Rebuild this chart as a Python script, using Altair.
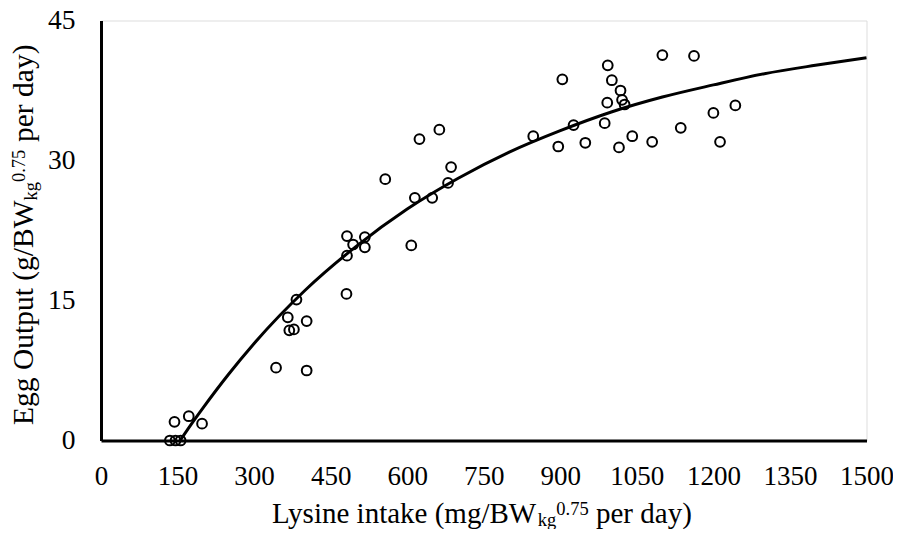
import altair as alt
import pandas as pd

lysine_x = [135, 146, 156, 144, 172, 198, 343, 403, 366, 369, 378, 403, 383,
            481, 482, 482, 494, 517, 517, 608, 557, 615, 649, 680, 686, 624,
            663, 847, 896, 904, 926, 949, 987, 992, 993, 1001, 1015, 1018,
            1021, 1026, 1041, 1080, 1100, 1136, 1162, 1200, 1213, 1243]
egg_y = [0, 0, 0, 2.0, 2.6, 1.8, 7.8, 7.5, 13.2, 11.8, 11.9, 12.8, 15.1,
         15.7, 19.8, 21.9, 21.0, 21.8, 20.7, 20.9, 28.0, 26.0, 26.0, 27.6, 29.3, 32.3,
         33.3, 32.6, 31.5, 38.7, 33.8, 31.9, 34.0, 36.2, 40.2, 38.6, 31.4, 37.5,
         36.5, 36.0, 32.6, 32.0, 41.3, 33.5, 41.2, 35.1, 32.0, 35.9]

# Fitted curve
curve_x = [155, 175, 200, 250, 300, 400, 500, 600, 700, 800, 900, 1000,
           1100, 1200, 1300, 1400, 1500]
curve_y = [0, 1.6, 3.5, 7.1, 10.4, 16.1, 20.8, 24.8, 28.1, 30.9, 33.2, 35.2,
           36.8, 38.1, 39.3, 40.2, 41.0]

x_ticks = [0, 150, 300, 450, 600, 750, 900, 1050, 1200, 1350, 1500]
y_ticks = [0, 15, 30, 45]

FONT = "Liberation Serif"
W, H = 765.5, 420

obs = pd.DataFrame({"x": lysine_x, "y": egg_y})
fit = pd.DataFrame({"x": curve_x, "y": curve_y})

xscale = alt.Scale(domain=[0, 1500], nice=False, zero=False)
yscale = alt.Scale(domain=[0, 45], nice=False, zero=False)

axis_common = dict(ticks=False, tickSize=0, grid=False, domainColor="black",
                   domainWidth=3, labelFont=FONT,
                   labelColor="black", title=None, labelOverlap=False, format="d")

xaxis = alt.Axis(values=x_ticks, labelPadding=23, labelFlush=False,
                 labelFontSize=27, **axis_common)
yaxis = alt.Axis(values=y_ticks, labelPadding=26, labelFontSize=27.5, **axis_common)

line = alt.Chart(fit).mark_line(color="black", strokeWidth=3, interpolate="monotone").encode(
    x=alt.X("x:Q", scale=xscale, axis=xaxis),
    y=alt.Y("y:Q", scale=yscale, axis=yaxis),
)

pts = alt.Chart(obs).mark_point(shape="circle", filled=False, color="black",
                                size=95, strokeWidth=2, opacity=1).encode(
    x=alt.X("x:Q", scale=xscale),
    y=alt.Y("y:Q", scale=yscale),
)


def txt(s, x, y, size, angle=0):
    return alt.Chart(pd.DataFrame({"t": [s]})).mark_text(
        font=FONT, fontSize=size, align="left", baseline="alphabetic",
        color="black", angle=angle,
    ).encode(text="t:N", x=alt.value(x), y=alt.value(y))


# x-axis title with subscript / superscript
xt = [
    txt("Lysine intake (mg/BW", 171, 502, 29),
    txt("kg", 436.8, 505, 18.5),
    txt("0.75", 455.3, 494, 18.5),
    txt("per day)", 495, 502, 29),
]
# y-axis title (rotated)
yt = [
    txt("Egg Output (g/BW", -68, 404.5, 29.5, 270),
    txt("kg", -64, 180.0, 18.5, 270),
    txt("0.75", -76, 161.5, 18.5, 270),
    txt("per day)", -68, 121.5, 29.5, 270),
]

chart = alt.layer(line, pts, *xt, *yt).properties(
    width=W, height=H,
    autosize=alt.AutoSizeParams(type="none"),
    padding={"left": 93, "top": 12.5, "right": 26.5, "bottom": 88.5},
).configure_view(stroke=None).configure(background="white")

chart.save("out.html", embed_options={"renderer": "svg", "actions": False})
